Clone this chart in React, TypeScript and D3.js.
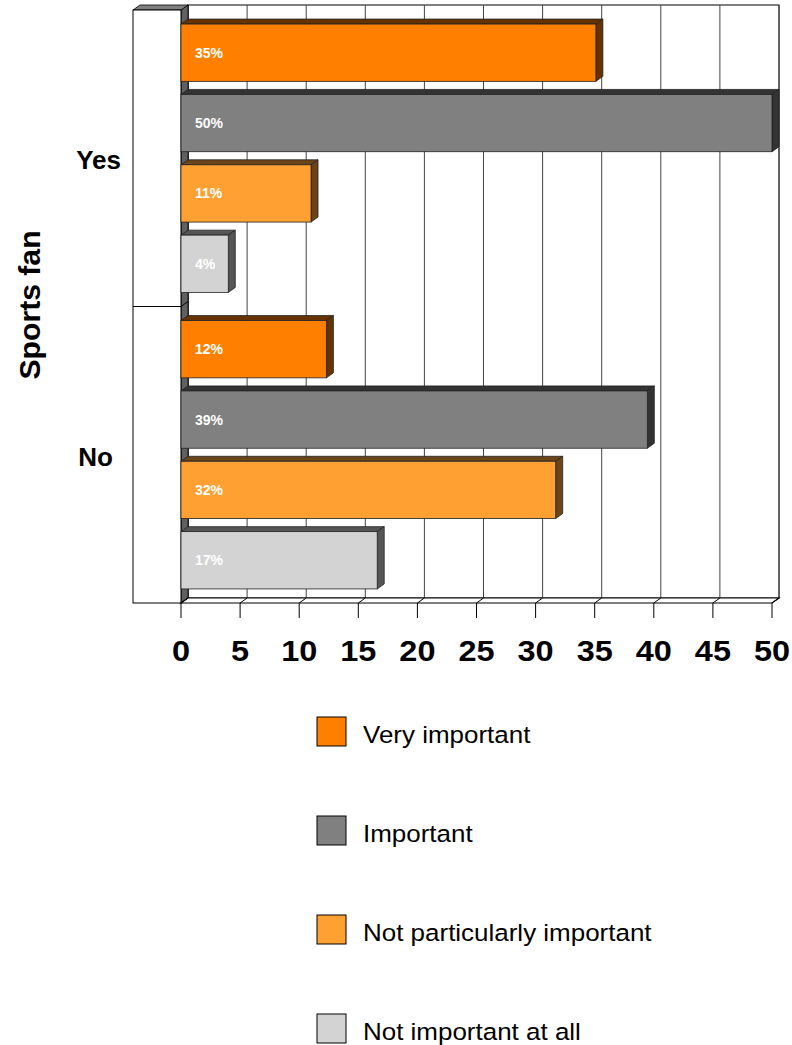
import React from "react";
import * as d3 from "d3";

const categories = ["Yes", "No"];
const seriesNames = ["Very important", "Important", "Not particularly important", "Not important at all"];
const yesValues = [35.1, 50, 11.0, 4.0];
const noValues = [12.3, 39.45, 31.7, 16.6];
const valueLabels = [["35%", "50%", "11%", "4%"], ["12%", "39%", "32%", "17%"]];
const xTicks = [0, 5, 10, 15, 20, 25, 30, 35, 40, 45, 50];

const frontColors = ["#FF8000", "#808080", "#FFA033", "#D3D3D3"];
const sideColors = ["#663300", "#333333", "#6B4419", "#555555"];

export default function App() {
  const W = 792, H = 1045;
  const dx = 7, dy = -5;
  const x = d3.scaleLinear().domain([0, 50]).range([181, 772]);
  const yCat = d3.scaleBand().domain(categories).range([10, 603]).paddingInner(0).paddingOuter(0);
  const ySer = d3.scaleBand().domain(seriesNames).range([0, yCat.bandwidth()]).paddingInner(13 / 70).paddingOuter(14 / 70);
  const data = [yesValues, noValues];
  const floorY = 603;
  const x0 = x(0);

  return (
    <svg width={W} height={H} style={{ position: "absolute", left: 0, top: 0 }} fontFamily="Arial, 'Liberation Sans', sans-serif">
      <rect width={W} height={H} fill="#fff" />
      {/* back wall */}
      <rect x={x0 + dx} y={10 + dy} width={x(50) - x0} height={floorY - 10} fill="#fff" stroke="#000" strokeWidth={1} />
      {xTicks.map((t) => (
        <line key={"g" + t} x1={x(t) + dx} x2={x(t) + dx} y1={10 + dy} y2={floorY + dy} stroke={t === 0 ? "#000" : "#444"} strokeWidth={1} />
      ))}
      {/* left side wall strip */}
      <polygon points={`${x0},10 ${x0 + dx},${10 + dy} ${x0 + dx},${floorY + dy} ${x0},${floorY}`} fill="#606060" stroke="#000" strokeWidth={0.8} />
      {/* top bevel of left panel */}
      <polygon points={`133,10 ${133 + dx},${10 + dy} ${x0 + dx},${10 + dy} ${x0},10`} fill="#808080" stroke="#000" strokeWidth={0.8} />
      {/* left panel */}
      <rect x={133} y={10} width={x0 - 133} height={floorY - 10} fill="#fff" stroke="#000" strokeWidth={1} />
      <line x1={133} x2={x0} y1={yCat("No")!} y2={yCat("No")!} stroke="#000" strokeWidth={1} />
      <line x1={x0} x2={x0 + dx} y1={yCat("No")!} y2={yCat("No")! + dy} stroke="#000" strokeWidth={1} />
      {/* floor */}
      <polygon points={`${x0},${floorY} ${x0 + dx},${floorY + dy} ${x(50) + dx},${floorY + dy} ${x(50)},${floorY}`} fill="#fff" stroke="#000" strokeWidth={1.2} />
      {xTicks.map((t) => (
        <g key={"t" + t}>
          <line x1={x(t)} x2={x(t) + dx} y1={floorY} y2={floorY + dy} stroke="#000" strokeWidth={1} />
          <line x1={x(t)} x2={x(t)} y1={floorY} y2={floorY + 15} stroke="#000" strokeWidth={1} />
          <text transform={`translate(${x(t)},661) scale(1.12,1)`} textAnchor="middle" fontSize={29} fontWeight="bold" fill="#000">{t}</text>
        </g>
      ))}
      {/* bars */}
      {categories.map((c, ci) =>
        seriesNames.map((s, si) => {
          const v = data[ci][si];
          const y0 = yCat(c)! + ySer(s)!;
          const h = ySer.bandwidth();
          const xe = x(v);
          return (
            <g key={c + s}>
              <polygon points={`${x0},${y0} ${x0 + dx},${y0 + dy} ${xe + dx},${y0 + dy} ${xe},${y0}`} fill={sideColors[si]} stroke="#222" strokeWidth={0.8} />
              <polygon points={`${xe},${y0} ${xe + dx},${y0 + dy} ${xe + dx},${y0 + h + dy} ${xe},${y0 + h}`} fill={sideColors[si]} stroke="#222" strokeWidth={0.8} />
              <rect x={x0} y={y0} width={xe - x0} height={h} fill={frontColors[si]} stroke="#222" strokeWidth={0.8} />
              <text x={x0 + 14} y={y0 + h / 2 + 5} fontSize={14} fontWeight="bold" fill="#fff">{valueLabels[ci][si]}</text>
            </g>
          );
        })
      )}
      {/* category labels */}
      {categories.map((c) => (
        <text key={c} transform={`translate(${c === "Yes" ? 121 : 113},${yCat(c)! + yCat.bandwidth() / 2 + 11}) scale(1.04,1)`} textAnchor="end" fontSize={25} fontWeight="bold" fill="#000">{c}</text>
      ))}
      <text transform="translate(40,305) rotate(-90) scale(1.04,1)" textAnchor="middle" fontSize={29} fontWeight="bold" fill="#000">Sports fan</text>
      {/* legend */}
      {seriesNames.map((s, i) => (
        <g key={s} transform={`translate(317,${717 + i * 99})`}>
          <rect x={0} y={0} width={29} height={29} fill={frontColors[i]} stroke="#000" strokeWidth={1} />
          <text transform="translate(46,25.5) scale(1.06,1)" fontSize={24.5} fill="#000">{s}</text>
        </g>
      ))}
    </svg>
  );
}
